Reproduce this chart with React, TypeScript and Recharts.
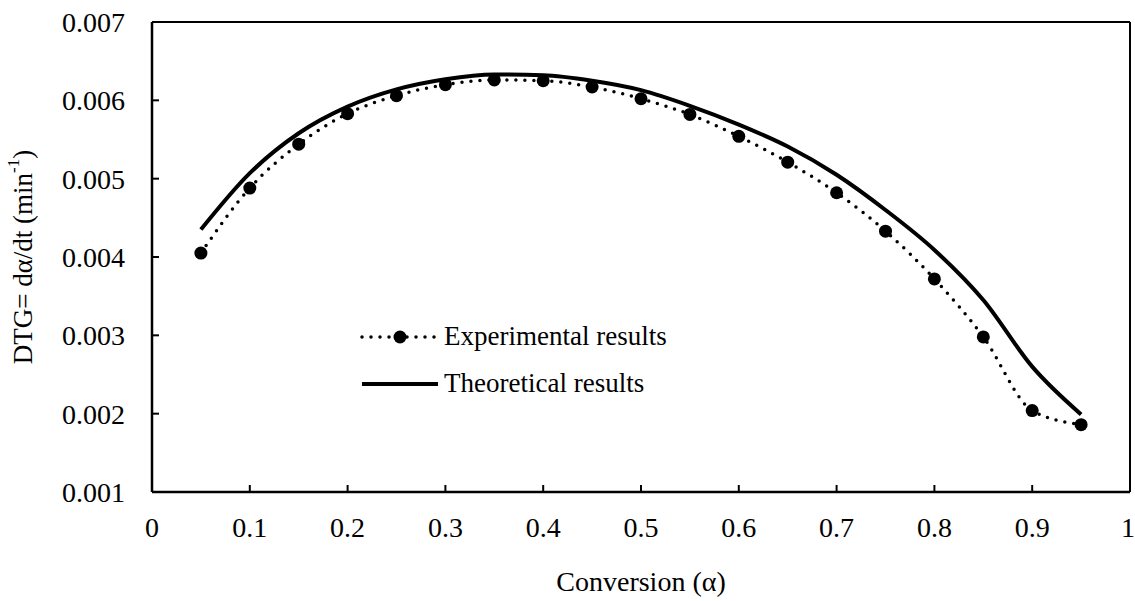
import React from "react";
import { LineChart, Line, XAxis, YAxis, Legend, ReferenceLine, Label } from "recharts";

const alpha = [0.05, 0.1, 0.15, 0.2, 0.25, 0.3, 0.35, 0.4, 0.45, 0.5, 0.55, 0.6, 0.65, 0.7, 0.75, 0.8, 0.85, 0.9, 0.95];
const experimental = [0.00405, 0.00488, 0.00544, 0.00583, 0.00606, 0.0062, 0.00626, 0.00625, 0.00617, 0.00602, 0.00582, 0.00554, 0.00521, 0.00482, 0.00433, 0.00372, 0.00298, 0.00204, 0.00186];
const theoretical = [0.00435, 0.00507, 0.00558, 0.00592, 0.00614, 0.00627, 0.00633, 0.00632, 0.00625, 0.00613, 0.00593, 0.00569, 0.00541, 0.00505, 0.0046, 0.00409, 0.00345, 0.0026, 0.00199];
const xTicks = [0, 0.1, 0.2, 0.3, 0.4, 0.5, 0.6, 0.7, 0.8, 0.9, 1];
const yTicks = [0.001, 0.002, 0.003, 0.004, 0.005, 0.006, 0.007];

const data = alpha.map((a, i) => ({ alpha: a, exp: experimental[i], theo: theoretical[i] }));

const FONT = "'Liberation Serif', 'Times New Roman', serif";

function YTitle(props: any) {
  const { viewBox } = props;
  const cx = viewBox.x + 23;
  const cy = viewBox.y + viewBox.height / 2;
  return (
    <text
      x={cx}
      y={cy}
      transform={`rotate(-90, ${cx}, ${cy})`}
      textAnchor="middle"
      dominantBaseline="central"
      fontFamily={FONT}
      fontSize={27}
      fill="#000"
    >
      DTG= dα/dt (min<tspan dy={-10} fontSize={17}>-1</tspan><tspan dy={10}>)</tspan>
    </text>
  );
}

// legend drawn by hand: dotted line with a marker, and a plain thick line
function LegendBox() {
  return (
    <div style={{ fontFamily: FONT, fontSize: 27, color: "#000" }}>
      <div style={{ display: "flex", alignItems: "center", height: 47 }}>
        <svg width={84} height={20}>
          <line x1={2} y1={10} x2={78} y2={10} stroke="#000" strokeWidth={3.5} strokeDasharray="0 9" strokeLinecap="round" />
          <circle cx={40} cy={10} r={6.5} fill="#000" />
        </svg>
        <span>Experimental results</span>
      </div>
      <div style={{ display: "flex", alignItems: "center", height: 47 }}>
        <svg width={84} height={20}>
          <line x1={2} y1={10} x2={78} y2={10} stroke="#000" strokeWidth={4} />
        </svg>
        <span>Theoretical results</span>
      </div>
    </div>
  );
}

export default function App() {
  return (
    <div style={{ position: "absolute", left: 0, top: 0, width: 1135, height: 601, background: "#fff" }}>
      <LineChart width={1135} height={601} data={data} margin={{ top: 22, right: 5, left: 0, bottom: 0 }}>
        <XAxis
          dataKey="alpha"
          type="number"
          domain={[0, 1]}
          ticks={xTicks}
          height={109}
          axisLine={{ stroke: "#000", strokeWidth: 2.5 }}
          tickLine={{ stroke: "#000", strokeWidth: 2 }}
          tickSize={-7}
          tickMargin={32}
          tick={{ fontFamily: FONT, fontSize: 28, fill: "#000" }}
        >
          <Label value="Conversion (α)" position="insideBottom" offset={10} style={{ fontFamily: FONT, fontSize: 28, fill: "#000" }} />
        </XAxis>
        <YAxis
          type="number"
          domain={[0.001, 0.007]}
          ticks={yTicks}
          width={152}
          axisLine={{ stroke: "#000", strokeWidth: 2.5 }}
          tickLine={{ stroke: "#000", strokeWidth: 2 }}
          tickSize={-7}
          tickMargin={34}
          tickFormatter={(v: number) => v.toFixed(3)}
          tick={{ fontFamily: FONT, fontSize: 28, fill: "#000" }}
        >
          <Label content={<YTitle />} />
        </YAxis>
        <ReferenceLine y={0.007} stroke="#000" strokeWidth={2} />
        <ReferenceLine x={1} stroke="#000" strokeWidth={2} />
        <Legend
          layout="vertical"
          align="center"
          verticalAlign="middle"
          content={<LegendBox />}
          wrapperStyle={{ position: "absolute", left: 360, top: 313, width: 420, height: 94 }}
        />
        <Line
          type="monotone"
          dataKey="exp"
          stroke="#000"
          strokeWidth={3.5}
          strokeDasharray="0 9"
          strokeLinecap="round"
          dot={{ r: 6.5, fill: "#000", stroke: "#000", strokeWidth: 0, strokeDasharray: "" }}
          activeDot={false}
          isAnimationActive={false}
        />
        <Line
          type="monotone"
          dataKey="theo"
          stroke="#000"
          strokeWidth={4}
          dot={false}
          activeDot={false}
          isAnimationActive={false}
        />
      </LineChart>
    </div>
  );
}
